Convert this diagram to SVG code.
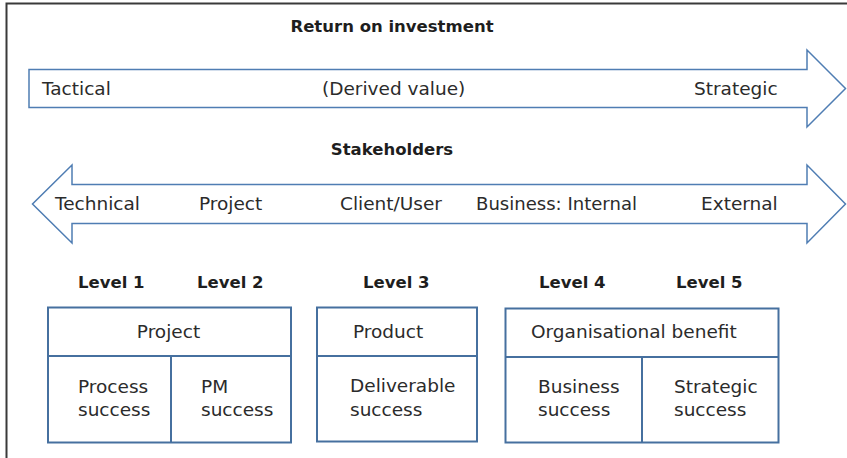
<svg xmlns="http://www.w3.org/2000/svg" width="847" height="458" viewBox="0 0 847 458">
<style>
.frame{fill:none;stroke:#3a3a3a;stroke-width:2}
.arrow{fill:#fff;stroke:#4f7db3;stroke-width:1.5;stroke-linejoin:miter}
.box{fill:#fff;stroke:#46709f;stroke-width:2}
.div{stroke:#46709f;stroke-width:2}
.t{font-family:"DejaVu Sans","Liberation Sans",sans-serif;font-size:18.5px;fill:#2b2b2b}
.b{font-family:"DejaVu Sans","Liberation Sans",sans-serif;font-size:16.5px;font-weight:bold;fill:#1e1e1e}
</style>
<rect width="847" height="458" fill="#fff"/>
<path class="frame" d="M6.5,458 V3.5 H847"/>
<g id="roi">
<text class="b" x="392" y="32" text-anchor="middle">Return on investment</text>
<path class="arrow" d="M29,69.5 H807 V50 L845.5,88.5 L807,127 V107.5 H29 Z"/>
<text class="t" x="42" y="95">Tactical</text>
<text class="t" x="322" y="95">(Derived value)</text>
<text class="t" x="694" y="95">Strategic</text>
</g>
<g id="stakeholders">
<text class="b" x="392" y="155" text-anchor="middle">Stakeholders</text>
<path class="arrow" d="M72,184.5 H807 V165 L845.5,204 L807,243 V223.5 H72 V243 L32.5,204 L72,165 Z"/>
<text class="t" x="55" y="210">Technical</text>
<text class="t" x="199" y="210">Project</text>
<text class="t" x="340" y="210">Client/User</text>
<text class="t" x="476" y="210" textLength="161" lengthAdjust="spacingAndGlyphs">Business: Internal</text>
<text class="t" x="701" y="210">External</text>
</g>
<g id="levels">
<text class="b" x="78" y="288">Level 1</text>
<text class="b" x="197" y="288">Level 2</text>
<text class="b" x="363" y="288">Level 3</text>
<text class="b" x="539" y="288">Level 4</text>
<text class="b" x="676" y="288">Level 5</text>
</g>
<g id="project-box">
<rect class="box" x="48" y="307.5" width="243" height="135"/>
<line class="div" x1="48" y1="356" x2="291" y2="356"/>
<line class="div" x1="171" y1="356" x2="171" y2="442.5"/>
<text class="t" x="168.5" y="338" text-anchor="middle">Project</text>
<text class="t" x="78" y="393">Process</text>
<text class="t" x="78" y="415.5">success</text>
<text class="t" x="201" y="393">PM</text>
<text class="t" x="201" y="415.5">success</text>
</g>
<g id="product-box">
<rect class="box" x="317" y="307.5" width="160" height="134"/>
<line class="div" x1="317" y1="356" x2="477" y2="356"/>
<text class="t" x="353" y="338">Product</text>
<text class="t" x="350" y="392">Deliverable</text>
<text class="t" x="350" y="415.5">success</text>
</g>
<g id="org-box">
<rect class="box" x="505.5" y="308.5" width="273" height="134"/>
<line class="div" x1="505.5" y1="357" x2="778.5" y2="357"/>
<line class="div" x1="642" y1="357" x2="642" y2="442.5"/>
<text class="t" x="531" y="338">Organisational benefit</text>
<text class="t" x="538" y="393">Business</text>
<text class="t" x="538" y="415.5">success</text>
<text class="t" x="674" y="393">Strategic</text>
<text class="t" x="674" y="415.5">success</text>
</g>
</svg>
